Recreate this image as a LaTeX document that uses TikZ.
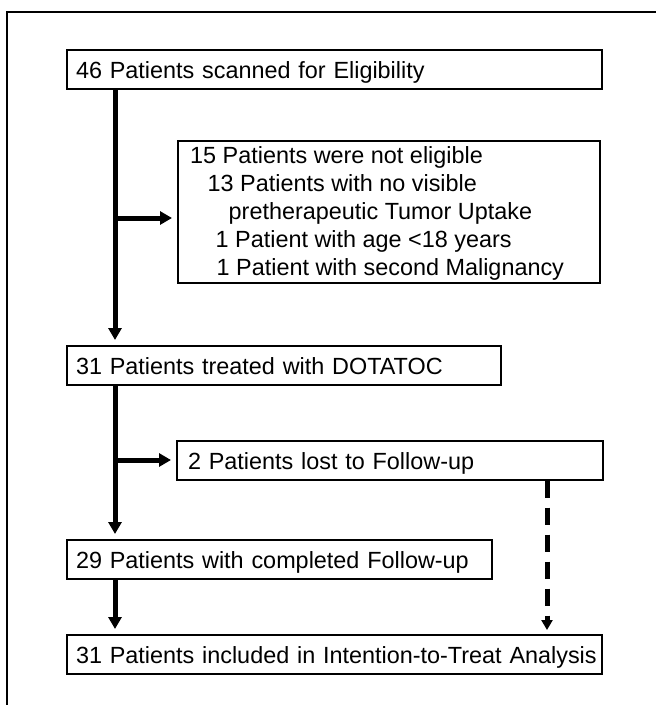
\documentclass[tikz,border=0pt]{standalone}
\usepackage{fontspec}
\setmainfont{Liberation Sans}
\usetikzlibrary{arrows.meta}
\begin{document}
\begin{tikzpicture}[x=1pt,y=-1pt,
  txtfont/.style={font=\fontsize{23.4}{28}\selectfont},
  box/.style={draw, line width=2pt, anchor=north west, inner xsep=9pt, inner ysep=0pt,
    minimum height=38.5pt, align=left, text height=19pt, text depth=0pt, txtfont},
  txt/.style={anchor=base west, inner sep=0pt, txtfont},
  arr/.style={line width=5pt, -{Triangle[length=12pt,width=13pt]}, shorten >=5pt},
  darr/.style={line width=5pt, dash pattern=on 17pt off 10pt,
    -{Triangle[length=10pt,width=11pt]}, shorten >=4pt}]
\useasboundingbox (0,0) rectangle (656,705);
\fill[white] (0,0) rectangle (656,705);
% frame
\draw[line width=1.5pt] (7,705) -- (7,12) -- (656,12);
% boxes
\node[box, text width=517pt] (b1) at (66,49) {\mbox{46 Patients scanned for Eligibility}};
\node[draw, line width=2pt, anchor=north west, minimum width=422pt, minimum height=142pt, inner sep=0pt] (b2) at (177,140) {};
\node[txt] (l1) at (190,163) {15 Patients were not eligible};
\node[txt] (l2) at (207.5,191) {13 Patients with no visible};
\node[txt] (l3) at (228.5,219) {pretherapeutic Tumor Uptake};
\node[txt] (l4) at (215.5,247) {1 Patient with age <18 years};
\node[txt] (l5) at (216.5,275) {1 Patient with second Malignancy};
\node[box, text width=416pt] (b3) at (66,345) {\mbox{31 Patients treated with DOTATOC}};
\node[box, inner xsep=11pt, text width=404pt] (b4) at (176,440) {\mbox{2 Patients lost to Follow-up}};
\node[box, text width=407pt] (b5) at (66,539) {\mbox{29 Patients with completed Follow-up}};
\node[box, text width=517pt] (b6) at (66,634) {\mbox{31 Patients included in Intention-to-Treat Analysis}};
% junctions
\coordinate (j1) at (115,218);
\coordinate (j2) at (115,460);
\coordinate (dx) at (547,460);
% connectors
\draw[arr] (b1.south -| j1) -- (b3.north -| j1);
\draw[arr] (j1) -- (b2.west |- j1);
\draw[arr] (b3.south -| j2) -- (b5.north -| j2);
\draw[arr] (j2) -- (b4.west |- j2);
\draw[arr] (b5.south -| j2) -- (b6.north -| j2);
\draw[darr] (b4.south -| dx) -- (b6.north -| dx);
\end{tikzpicture}
\end{document}
